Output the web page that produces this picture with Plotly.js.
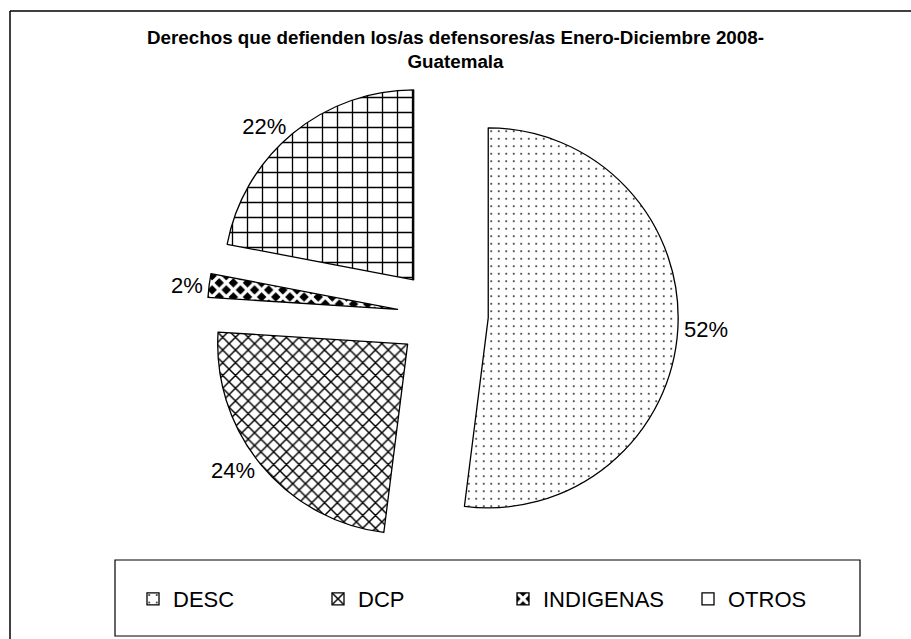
<!DOCTYPE html>
<html>
<head>
<meta charset="utf-8">
<script src="https://cdn.plot.ly/plotly-3.0.1.min.js"></script>
<style>html,body{margin:0;padding:0;background:#fff;overflow:hidden;}#chart{width:911px;height:639px;}</style>
</head>
<body>
<div id="chart"></div>
<script>
const categories = ['DESC', 'DCP', 'INDIGENAS', 'OTROS'];
const values = [52, 24, 2, 22];
const patternShapes = ['.', 'x', 'x', '+'];
const titleText = 'Derechos que defienden los/as defensores/as Enero-Diciembre 2008-<br>Guatemala';

const FONT = 'Liberation Sans, Arial, sans-serif';

const trace = {
  type: 'pie',
  labels: categories,
  values: values,
  sort: false,
  direction: 'clockwise',
  rotation: 0,
  pull: [0.24, 0.24, 0.24, 0.24],
  textinfo: 'percent',
  textposition: 'outside',
  textfont: {family: FONT, size: 22, color: '#000'},
  hoverinfo: 'none',
  domain: {x: [0.186, 0.786], y: [0.1385, 0.8756]},
  marker: {
    colors: ['#fff', '#fff', '#000', '#fff'],
    line: {color: '#000', width: 1.3},
    pattern: {
      shape: patternShapes,
      size: [7.5, 9, 10, 15],
      solidity: [0.04, 0.3, 0.55, 0.17],
      fgcolor: ['#000', '#000', '#fff', '#000'],
      bgcolor: ['#fff', '#fff', '#000', '#fff'],
      fillmode: 'replace'
    }
  }
};

const layout = {
  width: 911,
  height: 639,
  margin: {l: 0, r: 0, t: 0, b: 0},
  paper_bgcolor: '#fff',
  font: {family: FONT, color: '#000'},
  title: {
    text: titleText,
    x: 0.5, xanchor: 'center',
    y: 1 - 44/639, yanchor: 'top', yref: 'container',
    font: {family: FONT, size: 18.8, weight: 'bold', color: '#000'}
  },
  showlegend: true,
  legend: {
    orientation: 'h',
    x: 133/911, xanchor: 'left',
    y: 1 - 599/639, yanchor: 'middle',
    font: {family: FONT, size: 22, color: '#000'},
    bgcolor: 'rgba(0,0,0,0)',
    borderwidth: 0,
    entrywidthmode: 'pixels',
    entrywidth: 140,
    traceorder: 'normal'
  },
  shapes: [
    {type: 'line', xref: 'paper', yref: 'paper', x0: 10/911, x1: 1, y0: 1 - 11/639, y1: 1 - 11/639,
     line: {color: '#000', width: 1.5}, layer: 'below'},
    {type: 'line', xref: 'paper', yref: 'paper', x0: 10/911, x1: 10/911, y0: 0, y1: 1 - 11/639,
     line: {color: '#000', width: 1.5}, layer: 'below'},
    {type: 'rect', xref: 'paper', yref: 'paper', x0: 115/911, x1: 860/911, y0: 1 - 636/639, y1: 1 - 560/639,
     line: {color: '#000', width: 1.2}, fillcolor: 'rgba(0,0,0,0)', layer: 'below'}
  ]
};

Plotly.newPlot('chart', [trace], layout, {staticPlot: true, displayModeBar: false});
</script>
</body>
</html>
